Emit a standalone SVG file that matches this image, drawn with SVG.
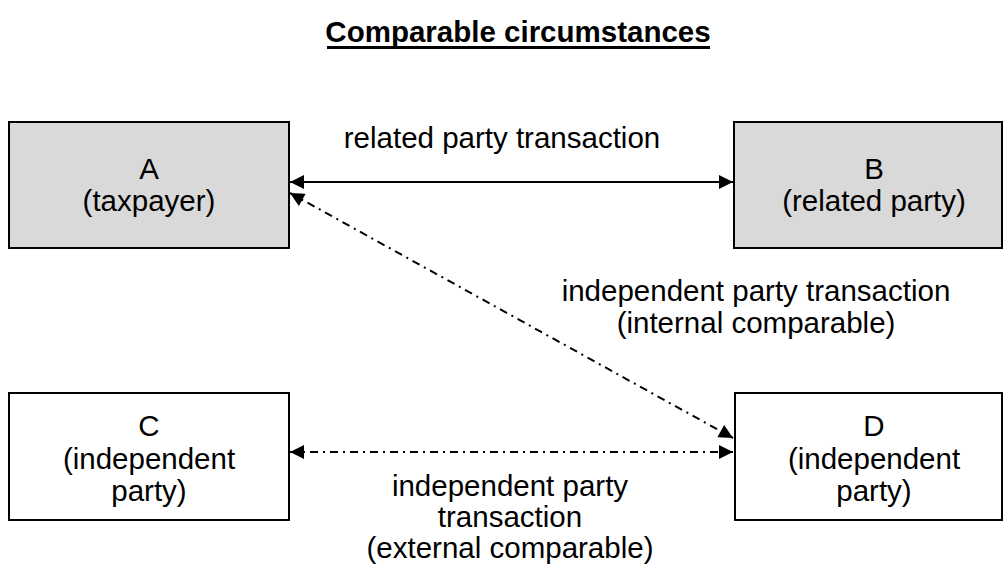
<svg xmlns="http://www.w3.org/2000/svg" width="1003" height="568" viewBox="0 0 1003 568">
<style>
  text { font-family: "Liberation Sans", Arial, sans-serif; font-size: 29.5px; fill: #000; text-anchor: middle; }
  .title { font-weight: bold; }
  .box { stroke: #000; stroke-width: 2; }
  .grey { fill: #d9d9d9; }
  .white { fill: #fff; }
  .solid { stroke: #000; stroke-width: 2; fill: none; }
  .dash { stroke: #000; stroke-width: 2; fill: none; stroke-dasharray: 8 5 2 5; }
</style>
<defs>
  <marker id="ah" viewBox="0 0 10 10" refX="10" refY="5" markerWidth="7.5" markerHeight="7" markerUnits="strokeWidth" orient="auto-start-reverse">
    <path d="M0,0 L10,5 L0,10 Z" fill="#000"/>
  </marker>
</defs>
<rect width="1003" height="568" fill="#fff"/>
<g id="title">
  <text class="title" x="518" y="42">Comparable circumstances</text>
  <rect x="327" y="46" width="383" height="3" fill="#000"/>
</g>
<g id="connectors">
  <line class="solid" x1="290" y1="182" x2="733" y2="182" marker-start="url(#ah)" marker-end="url(#ah)"/>
  <line class="dash" x1="290" y1="193" x2="733" y2="438" marker-start="url(#ah)" marker-end="url(#ah)"/>
  <line class="dash" x1="290" y1="452" x2="733" y2="452" marker-start="url(#ah)" marker-end="url(#ah)"/>
  <text x="502" y="148">related party transaction</text>
  <text x="756" y="301">independent party transaction</text>
  <text x="756" y="333">(internal comparable)</text>
  <text x="510" y="496">independent party</text>
  <text x="510" y="527">transaction</text>
  <text x="510" y="558">(external comparable)</text>
</g>
<g id="nodeA">
  <rect class="box grey" x="9" y="122" width="280" height="126"/>
  <text x="149" y="179">A</text>
  <text x="149" y="211">(taxpayer)</text>
</g>
<g id="nodeB">
  <rect class="box grey" x="734" y="122" width="268" height="126"/>
  <text x="874" y="179">B</text>
  <text x="874" y="211">(related party)</text>
</g>
<g id="nodeC">
  <rect class="box white" x="9" y="393" width="280" height="127"/>
  <text x="149" y="436">C</text>
  <text x="149" y="469">(independent</text>
  <text x="149" y="501">party)</text>
</g>
<g id="nodeD">
  <rect class="box white" x="735" y="393" width="267" height="127"/>
  <text x="874" y="436">D</text>
  <text x="874" y="469">(independent</text>
  <text x="874" y="501">party)</text>
</g>
</svg>
